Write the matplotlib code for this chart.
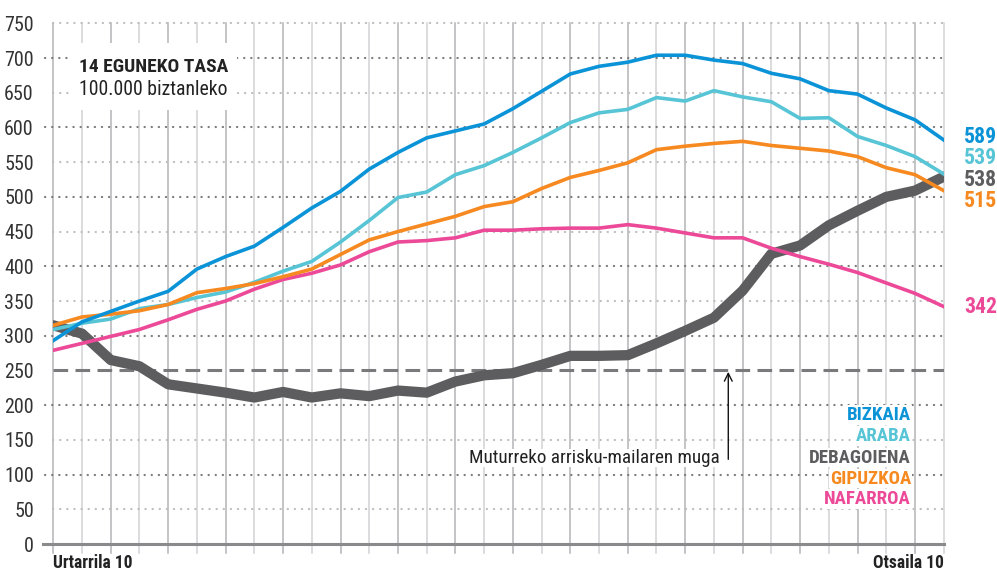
import matplotlib
matplotlib.use("Agg")
import matplotlib.pyplot as plt
from matplotlib.patches import Rectangle
from matplotlib import font_manager

_installed = {f.name for f in font_manager.fontManager.ttflist}
if "Roboto Condensed" in _installed:
    FONT, K = "Roboto Condensed", 1.15
elif "Liberation Sans Narrow" in _installed:
    FONT, K = "Liberation Sans Narrow", 1.18
else:
    FONT, K = "Liberation Sans", 1.0
plt.rcParams['font.family'] = [FONT, 'DejaVu Sans']

# ---- data ----
days = list(range(32))  # Urtarrila 10 .. Otsaila 10
bizkaia = [293, 320, 335, 350, 364, 396, 414, 429, 456, 484, 508, 540, 564, 585, 595, 605,
           627, 652, 677, 688, 694, 704, 704, 697, 692, 678, 670, 653, 648, 628, 611, 582]
araba = [309, 318, 324, 339, 345, 355, 363, 377, 393, 407, 435, 466, 499, 507, 532, 545,
         564, 585, 607, 621, 626, 643, 638, 653, 644, 637, 613, 614, 587, 574, 558, 533]
debagoiena = [315, 303, 265, 256, 230, 224, 218, 211, 219, 211, 217, 213, 221, 218, 234, 243,
              246, 258, 271, 271, 272, 289, 307, 326, 365, 418, 430, 459, 480, 500, 509, 529]
gipuzkoa = [315, 327, 331, 336, 345, 362, 368, 375, 385, 396, 417, 438, 450, 461, 472, 486,
            493, 512, 528, 538, 549, 568, 573, 577, 580, 574, 570, 566, 558, 542, 532, 509]
nafarroa = [279, 289, 299, 309, 323, 338, 350, 367, 381, 390, 402, 421, 435, 437, 441, 452,
            452, 454, 455, 455, 460, 455, 448, 441, 441, 426, 414, 403, 391, 376, 361, 342]

names = ["BIZKAIA", "ARABA", "DEBAGOIENA", "GIPUZKOA", "NAFARROA"]
end_labels = ["589", "539", "538", "515", "342"]
yticks = list(range(0, 751, 50))
threshold = 250
x_labels = ["Urtarrila 10", "Otsaila 10"]
title = "14 EGUNEKO TASA"
subtitle = "100.000 biztanleko"
annotation = "Muturreko arrisku-mailaren muga"

C_BLUE = "#0b93d8"
C_CYAN = "#57c5d5"
C_GRAY = "#5d5d5f"
C_ORANGE = "#f6891f"
C_PINK = "#ec4a98"

W, H = 997, 572
fig = plt.figure(figsize=(W / 100, H / 100), dpi=100)
x0, x1, y0, y1 = 53.3, 943.7, 544.0, 23.3
ax = fig.add_axes([x0 / W, (H - y0) / H, (x1 - x0) / W, (y0 - y1) / H])
ax.set_xlim(0, 31)
ax.set_ylim(0, 750)
for s in ax.spines.values():
    s.set_visible(False)
ax.set_xticks([])
ax.set_yticks(yticks)
ax.set_yticklabels([str(v) for v in yticks], fontsize=12.5 * K, color="#333333")
ax.tick_params(axis="y", length=0, pad=14)

px_x = 31 / (x1 - x0)      # data units per pixel (x)
px_y = 750 / (y0 - y1)     # data units per pixel (y)

# vertical grid lines
for i in days:
    col = "#b4b4b8" if i % 2 == 0 else "#d2d2d4"
    ax.plot([i, i], [-9 * px_y, 750], color=col, lw=1.1, clip_on=False, zorder=1)

# horizontal dotted grid
for v in yticks[1:]:
    if v == threshold:
        continue
    if v % 100 == 0:
        ax.plot([-8 * px_x, 31], [v, v], color="#7a7a7a", lw=1.6, ls=(0, (0.1, 3.1)),
                dash_capstyle="round", clip_on=False, zorder=2)
    else:
        ax.plot([0, 31], [v, v], color="#bdbdbd", lw=1.6, ls=(0, (0.1, 3.1)),
                dash_capstyle="round", clip_on=False, zorder=2)

# threshold dashed line
ax.plot([0, 31], [threshold, threshold], color="#7a7a7c", lw=2.2, ls=(0, (4.8, 2.4)), zorder=2)
# baseline
ax.plot([-10 * px_x, 31], [0, 0], color="#8a8a8c", lw=2.2, clip_on=False, zorder=3)

# title box
ax.add_patch(Rectangle((18.7 * px_x, (y0 - 110) * px_y), 165 * px_x, 67 * px_y,
                       facecolor="white", edgecolor="none", zorder=3))
ax.text(0.9, 687, title, fontsize=12.2 * K, fontweight="bold", color="#222222", va="center",
        ha="left", zorder=4)
ax.text(0.9, 655, subtitle, fontsize=12.4 * K, color="#222222", va="center", ha="left", zorder=4)

# series
ax.plot(days, debagoiena, color=C_GRAY, lw=7.4, solid_capstyle="round",
        solid_joinstyle="round", zorder=5)
ax.plot(days, nafarroa, color=C_PINK, lw=2.6, solid_joinstyle="round", zorder=6)
ax.plot(days, araba, color=C_CYAN, lw=2.6, solid_joinstyle="round", zorder=7)
ax.plot(days, gipuzkoa, color=C_ORANGE, lw=2.6, solid_joinstyle="round", zorder=8)
ax.plot(days, bizkaia, color=C_BLUE, lw=2.6, solid_joinstyle="round", zorder=9)

# end value labels
colors = [C_BLUE, C_CYAN, C_GRAY, C_ORANGE, C_PINK]
end_y = [586, 556, 524, 494, 341]
for lab, c, yy in zip(end_labels, colors, end_y):
    ax.text(31.72, yy, lab, fontsize=13.6 * K, fontweight="bold", color=c, ha="left",
            va="center", clip_on=False)

# legend
leg_y = [186, 155.5, 124.5, 94, 65]
for nm, c, yy in zip(names, colors, leg_y):
    ax.text(29.86, yy, nm, fontsize=11.8 * K, fontweight="bold", color=c, ha="right",
            va="center", zorder=10, bbox=dict(facecolor="white", edgecolor="none", pad=0.5))

# annotation
ax.annotate("", xy=(23.5, 252), xytext=(23.5, 118),
            arrowprops=dict(arrowstyle="->", color="#111111", lw=1.0,
                            mutation_scale=14), zorder=10)
ax.text(23.22, 124, annotation, fontsize=12 * K, color="#222222", ha="right", va="center",
        zorder=10, bbox=dict(facecolor="white", edgecolor="none", pad=0.3))

# x labels
ax.text(0, -27, x_labels[0], fontsize=11 * K, fontweight="bold", color="#222222", ha="left",
        va="center", clip_on=False)
ax.text(31, -27, x_labels[1], fontsize=11 * K, fontweight="bold", color="#222222", ha="right",
        va="center", clip_on=False)

fig.savefig("out.png", dpi=100)
